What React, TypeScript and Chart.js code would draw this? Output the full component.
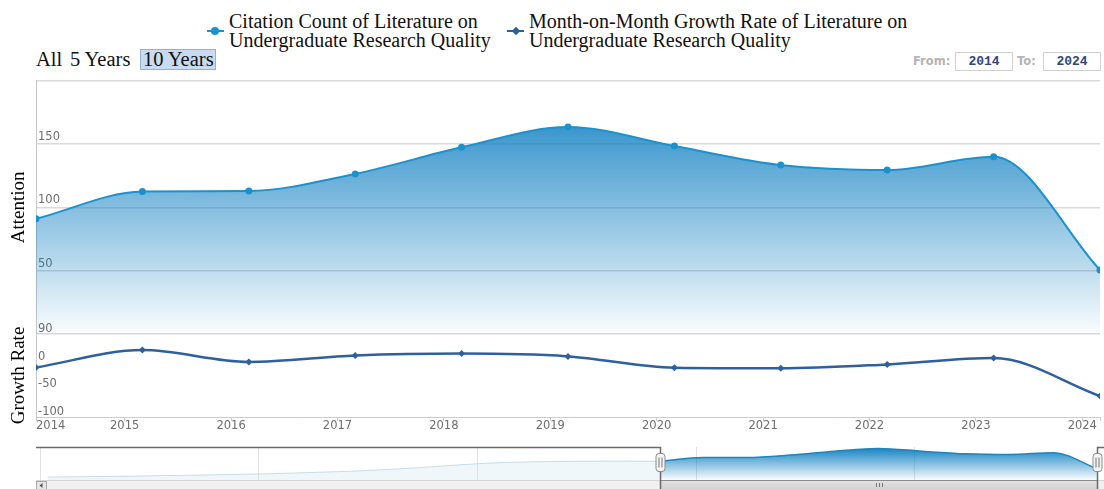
import React, { useEffect, useRef } from 'react';
import { Chart, registerables } from 'chart.js';

Chart.register(...registerables);

// ---------- data ----------
const years = [2014, 2015, 2016, 2017, 2018, 2019, 2020, 2021, 2022, 2023, 2024];
const attention = [91, 112.5, 113, 126.5, 147.5, 163.5, 148.5, 133.5, 129.5, 140, 50.5];
const growthRate = [-10.5, 21, -0.5, 11, 14.5, 9.5, -11, -12, -5, 6.5, -62];

// full history shown in the navigator (before the selected 10-year range)
const historyYears = [2000, 2001, 2002, 2003, 2004, 2005, 2006, 2007, 2008, 2009, 2010, 2011, 2012, 2013];
const historyAttention = [3, 5, 8, 12, 16, 21, 28, 36, 48, 64, 80, 88, 91, 93];

const xTickYears = [2015, 2016, 2017, 2018, 2019, 2020, 2021, 2022, 2023, 2024];
const navTickYears = [2000, 2005, 2010, 2015, 2020];
const attentionTicks = [0, 50, 100, 150, 200];
const attentionTickLabels = ['', '50', '100', '150', ''];
const growthTicks = [-100, -50, 0, 50];
const growthTickLabels = ['-100', '-50', '0', '90'];

const seriesNames = [
  ['Citation Count of Literature on', 'Undergraduate Research Quality'],
  ['Month-on-Month Growth Rate of Literature on', 'Undergraduate Research Quality'],
];
const rangeButtons = ['All', '5 Years', '10 Years'];
const fromLabel = 'From:';
const toLabel = 'To:';
const fromValue = '2014';
const toValue = '2024';

const MONTH_OFFSET = 2 / 12; // points dated 1 March
const NAV_MIN = 1999.9;
const NAV_MAX = 2024.33;

// ---------- styles ----------
const C_ATT = '#1b92ce';
const C_GROWTH = '#2e609f';
const TICK_FONT = { family: 'DejaVu Sans', size: 11.5 };
const TICK_COLOR = '#6e6e6e';
const SERIF = '"Liberation Serif", "Times New Roman", serif';

const mainX = years.map((y) => y + MONTH_OFFSET);
const histX = historyYears.map((y) => y + MONTH_OFFSET);

function attGradient(ctx: any, alphaTop: number) {
  const chart = ctx.chart;
  const ys = chart.scales && chart.scales.y;
  if (!ys || !chart.chartArea) return 'rgba(27,146,206,0.4)';
  const g = chart.ctx.createLinearGradient(0, ys.top, 0, ys.bottom);
  g.addColorStop(0, `rgba(16,128,194,${alphaTop})`);
  g.addColorStop(1, 'rgba(16,128,194,0.02)');
  return g;
}

const navigatorDecor = {
  id: 'navigatorDecor',
  afterDraw(chart: any) {
    const { ctx, chartArea, scales } = chart;
    const xs = scales.x;
    const xL = Math.round(xs.getPixelForValue(mainX[0])) + 0.5;
    const xR = Math.round(xs.getPixelForValue(mainX[mainX.length - 1])) + 0.5;
    const top = chartArea.top + 0.5;
    const bottom = chartArea.bottom;
    const H = chart.height;
    const left = chartArea.left;
    const right = chartArea.right;
    ctx.save();
    // scrollbar track
    ctx.fillStyle = '#f1f1f1';
    ctx.fillRect(left, bottom, right - left, H - bottom);
    ctx.strokeStyle = '#d4d4d4';
    ctx.lineWidth = 1;
    ctx.beginPath();
    ctx.moveTo(left, bottom + 0.5);
    ctx.lineTo(right, bottom + 0.5);
    ctx.stroke();
    // left button
    ctx.fillStyle = '#e6e6e6';
    ctx.fillRect(left, bottom + 1, 10, H - bottom);
    ctx.strokeStyle = '#a8a8a8';
    ctx.strokeRect(left + 0.5, bottom + 1.5, 10, H - bottom);
    ctx.fillStyle = '#555';
    ctx.beginPath();
    ctx.moveTo(left + 3.5, bottom + 5.5);
    ctx.lineTo(left + 6.5, bottom + 3);
    ctx.lineTo(left + 6.5, bottom + 8);
    ctx.closePath();
    ctx.fill();
    // thumb
    const g = ctx.createLinearGradient(0, bottom, 0, H);
    g.addColorStop(0, '#e4e4e4');
    g.addColorStop(1, '#d2d2d2');
    ctx.fillStyle = g;
    ctx.fillRect(xL, bottom, xR - xL, H - bottom);
    ctx.strokeStyle = '#8a8a8a';
    ctx.beginPath();
    ctx.moveTo(xL, bottom + 0.5);
    ctx.lineTo(xR, bottom + 0.5);
    ctx.stroke();
    const cx = Math.round((xL + xR) / 2) + 0.5;
    ctx.strokeStyle = '#777';
    ctx.beginPath();
    for (const d of [-3, 0, 3]) {
      ctx.moveTo(cx + d, bottom + 3);
      ctx.lineTo(cx + d, bottom + 7);
    }
    ctx.stroke();
    // outline
    ctx.strokeStyle = '#6a6a6a';
    ctx.lineWidth = 1.5;
    ctx.beginPath();
    ctx.moveTo(left, top);
    ctx.lineTo(xL, top);
    ctx.lineTo(xL, H);
    ctx.moveTo(xR, H);
    ctx.lineTo(xR, top);
    ctx.lineTo(right, top);
    ctx.stroke();
    // handles
    for (const hx of [xL, xR]) {
      ctx.lineWidth = 1;
      ctx.fillStyle = '#f4f4f4';
      ctx.strokeStyle = '#8a8a8a';
      ctx.beginPath();
      (ctx as any).roundRect(hx - 4.5, top + 6, 9, 18, 3);
      ctx.fill();
      ctx.stroke();
      ctx.strokeStyle = '#777';
      ctx.beginPath();
      ctx.moveTo(hx - 1.5, top + 10);
      ctx.lineTo(hx - 1.5, top + 20);
      ctx.moveTo(hx + 1.5, top + 10);
      ctx.lineTo(hx + 1.5, top + 20);
      ctx.stroke();
    }
    ctx.restore();
  },
};

export default function App() {
  const mainRef = useRef<HTMLCanvasElement>(null);
  const navRef = useRef<HTMLCanvasElement>(null);

  useEffect(() => {
    const xMin = mainX[0];
    const xMax = mainX[mainX.length - 1];
    const main = new Chart(mainRef.current as HTMLCanvasElement, {
      type: 'line',
      data: {
        datasets: [
          {
            label: seriesNames[0].join(' '),
            data: mainX.map((x, i) => ({ x, y: attention[i] })),
            yAxisID: 'y',
            borderColor: C_ATT,
            borderWidth: 2,
            backgroundColor: (ctx: any) => attGradient(ctx, 1),
            fill: 'start',
            pointRadius: 3.5,
            pointBackgroundColor: C_ATT,
            pointBorderWidth: 0,
            cubicInterpolationMode: 'monotone',
          },
          {
            label: seriesNames[1].join(' '),
            data: mainX.map((x, i) => ({ x, y: growthRate[i] })),
            yAxisID: 'y2',
            borderColor: C_GROWTH,
            borderWidth: 2.5,
            fill: false,
            pointStyle: 'rectRot',
            pointRadius: 3.5,
            pointBackgroundColor: C_GROWTH,
            pointBorderWidth: 0,
            cubicInterpolationMode: 'monotone',
          },
        ],
      } as any,
      options: {
        animation: false,
        responsive: false,
        layout: { padding: { top: 5, right: 0, bottom: 0, left: 0 } },
        plugins: { legend: { display: false }, tooltip: { enabled: false } },
        scales: {
          x: {
            type: 'linear',
            min: xMin,
            max: xMax,
            afterBuildTicks: (s: any) => {
              s.ticks = [xMin, ...xTickYears, xMax].map((v) => ({ value: v }));
            },
            afterFit: (s: any) => {
              s.height = 23;
            },
            ticks: {
              align: 'inner',
              autoSkip: false,
              maxRotation: 0,
              padding: -2,
              font: TICK_FONT,
              color: TICK_COLOR,
              callback: (v: any) => (v === xMin ? String(years[0]) : v === xMax ? '' : String(v)),
            },
            grid: { drawOnChartArea: false, drawTicks: true, tickLength: 4, color: '#cccccc' },
            border: { color: '#cccccc' },
          },
          y2: {
            type: 'linear',
            position: 'left',
            stack: 'panes',
            stackWeight: 84,
            min: -100,
            max: 50,
            afterBuildTicks: (s: any) => {
              s.ticks = growthTicks.map((v) => ({ value: v }));
            },
            afterFit: (s: any) => {
              s.width = 36;
            },
            ticks: {
              mirror: true,
              autoSkip: false,
              padding: 2,
              labelOffset: -5,
              font: TICK_FONT,
              color: TICK_COLOR,
              callback: (v: any) => growthTickLabels[growthTicks.indexOf(v)] ?? '',
            },
            grid: { display: false },
            border: { color: '#c8c8c8' },
            title: {
              display: true,
              text: 'Growth Rate',
              color: '#000',
              font: { family: 'Liberation Serif', size: 19 },
              padding: { top: 8, bottom: 0 },
            },
          },
          y: {
            type: 'linear',
            position: 'left',
            stack: 'panes',
            stackWeight: 256,
            min: 0,
            max: 200,
            afterBuildTicks: (s: any) => {
              s.ticks = attentionTicks.map((v) => ({ value: v }));
            },
            afterFit: (s: any) => {
              s.width = 36;
            },
            ticks: {
              mirror: true,
              autoSkip: false,
              padding: 2,
              labelOffset: -7,
              font: TICK_FONT,
              color: TICK_COLOR,
              callback: (v: any) => attentionTickLabels[attentionTicks.indexOf(v)] ?? '',
            },
            grid: { color: '#d9d9d9', lineWidth: 1.5, drawTicks: false },
            border: { color: '#c8c8c8' },
            title: {
              display: true,
              text: 'Attention',
              color: '#000',
              font: { family: 'Liberation Serif', size: 19 },
              padding: { top: 8, bottom: 0 },
            },
          },
        },
      } as any,
    });

    const nav = new Chart(navRef.current as HTMLCanvasElement, {
      type: 'line',
      data: {
        datasets: [
          {
            data: [...histX, mainX[0]].map((x, i) => ({ x, y: [...historyAttention, attention[0]][i] })),
            borderColor: 'rgba(160,195,218,0.55)',
            borderWidth: 1,
            backgroundColor: 'rgba(205,228,242,0.3)',
            fill: 'start',
            pointRadius: 0,
            cubicInterpolationMode: 'monotone',
          },
          {
            data: mainX.map((x, i) => ({ x, y: attention[i] })),
            borderColor: '#1a86c0',
            borderWidth: 1.5,
            backgroundColor: (ctx: any) => {
              const chart = ctx.chart;
              const a = chart.chartArea;
              if (!a) return 'rgba(27,146,206,0.4)';
              const g = chart.ctx.createLinearGradient(0, a.top, 0, a.bottom);
              g.addColorStop(0, 'rgba(16,128,194,1)');
              g.addColorStop(1, 'rgba(16,128,194,0.02)');
              return g;
            },
            fill: 'start',
            pointRadius: 0,
            cubicInterpolationMode: 'monotone',
          },
        ],
      } as any,
      options: {
        animation: false,
        responsive: false,
        layout: { padding: { top: 7, right: 0, bottom: 9, left: 36 } },
        plugins: { legend: { display: false }, tooltip: { enabled: false } },
        scales: {
          x: {
            type: 'linear',
            min: NAV_MIN,
            max: NAV_MAX,
            z: 1,
            afterBuildTicks: (s: any) => {
              s.ticks = navTickYears.map((v) => ({ value: v }));
            },
            afterFit: (s: any) => {
              s.height = 0;
            },
            ticks: {
              align: 'start',
              labelOffset: 3,
              padding: -17,
              autoSkip: false,
              maxRotation: 0,
              font: TICK_FONT,
              color: TICK_COLOR,
              callback: (v: any) => String(v),
            },
            grid: { color: '#e2e2e2', drawTicks: false, lineWidth: 1 },
            border: { display: false },
          },
          y: { display: false, min: -14, max: 172 },
        },
      } as any,
      plugins: [navigatorDecor],
    });

    return () => {
      main.destroy();
      nav.destroy();
    };
  }, []);

  const legendText: React.CSSProperties = {
    position: 'absolute',
    top: 12,
    fontFamily: SERIF,
    fontSize: 20,
    lineHeight: '19px',
    color: '#111',
    whiteSpace: 'nowrap',
  };
  const serifBtn: React.CSSProperties = {
    position: 'absolute',
    top: 49,
    fontFamily: SERIF,
    fontSize: 20.5,
    lineHeight: '20px',
    color: '#111',
    whiteSpace: 'nowrap',
  };
  const smallLabel: React.CSSProperties = {
    position: 'absolute',
    top: 54,
    fontFamily: 'DejaVu Sans',
    fontWeight: 'bold',
    fontSize: 11.5,
    lineHeight: '14px',
    color: '#b4b4b4',
  };
  const inputBox: React.CSSProperties = {
    position: 'absolute',
    top: 52,
    width: 56,
    height: 17,
    border: '1px solid #cfcfcf',
    fontFamily: '"Liberation Mono", monospace',
    fontWeight: 'bold',
    fontSize: 13,
    lineHeight: '17px',
    textAlign: 'center',
    color: '#34467a',
    boxSizing: 'content-box',
  };

  return (
    <div
      style={{
        position: 'fixed',
        left: 0,
        top: 0,
        width: 1104,
        height: 489,
        overflow: 'hidden',
        background: '#fff',
      }}
    >
      {/* legend item 1 */}
      <div style={{ position: 'absolute', left: 207, top: 30, width: 17, height: 2, background: C_ATT }} />
      <div
        style={{ position: 'absolute', left: 211, top: 27, width: 8, height: 8, borderRadius: 4, background: C_ATT }}
      />
      <div style={{ ...legendText, left: 229 }}>
        {seriesNames[0][0]}
        <br />
        {seriesNames[0][1]}
      </div>
      {/* legend item 2 */}
      <div style={{ position: 'absolute', left: 507, top: 30, width: 17, height: 2, background: C_GROWTH }} />
      <div
        style={{
          position: 'absolute',
          left: 512.5,
          top: 28,
          width: 6,
          height: 6,
          background: C_GROWTH,
          transform: 'rotate(45deg)',
        }}
      />
      <div style={{ ...legendText, left: 529 }}>
        {seriesNames[1][0]}
        <br />
        {seriesNames[1][1]}
      </div>

      {/* range selector */}
      <div style={{ ...serifBtn, left: 36 }}>{rangeButtons[0]}</div>
      <div style={{ ...serifBtn, left: 70 }}>{rangeButtons[1]}</div>
      <div
        style={{
          position: 'absolute',
          left: 140,
          top: 49,
          width: 74,
          height: 19,
          background: '#c8dbf1',
          border: '1px solid #93b0d6',
        }}
      />
      <div style={{ ...serifBtn, left: 143 }}>{rangeButtons[2]}</div>

      <div style={{ ...smallLabel, left: 913 }}>{fromLabel}</div>
      <div style={{ ...inputBox, left: 955 }}>{fromValue}</div>
      <div style={{ ...smallLabel, left: 1017 }}>{toLabel}</div>
      <div style={{ ...inputBox, left: 1043 }}>{toValue}</div>

      <canvas
        ref={mainRef}
        width={1104}
        height={368}
        style={{ position: 'absolute', left: 0, top: 72, width: 1104, height: 368 }}
      />
      <canvas
        ref={navRef}
        width={1104}
        height={49}
        style={{ position: 'absolute', left: 0, top: 440, width: 1104, height: 49 }}
      />
    </div>
  );
}
